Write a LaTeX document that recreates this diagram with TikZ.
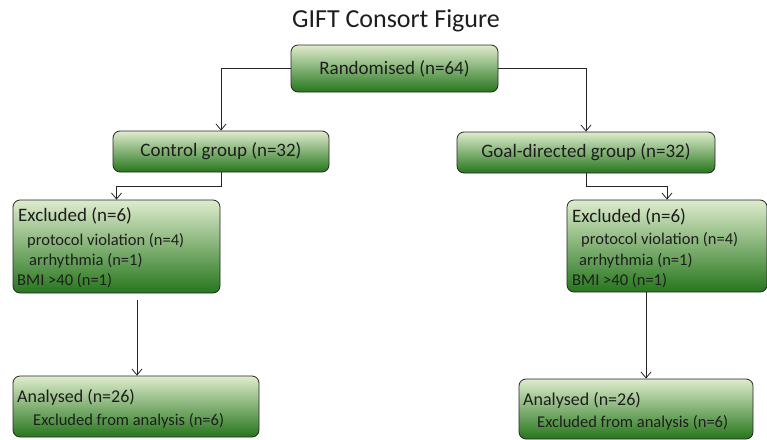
\documentclass[tikz,border=0pt]{standalone}
\usepackage{fontspec}
\setmainfont{Carlito}
\usetikzlibrary{arrows.meta}
\definecolor{gtop}{RGB}{222,236,205}
\definecolor{gmid}{RGB}{128,182,96}
\definecolor{gbot}{RGB}{38,118,28}
\definecolor{txt}{RGB}{30,30,30}
\begin{document}
\begin{tikzpicture}[x=1pt,y=-1pt,
 box/.style={draw=black!85, line width=0.8pt, rounded corners=7pt, top color=gtop, middle color=gmid, bottom color=gbot, inner sep=0pt, text=txt},
 big/.style={font=\fontsize{19}{22}\selectfont},
 mid/.style={font=\fontsize{18}{21}\selectfont},
 small/.style={font=\fontsize{16.5}{20}\selectfont},
 lbl/.style={anchor=base west, inner sep=0pt, text=txt},
 arr/.style={draw=black!85, line width=0.8pt, -{Straight Barb[length=6pt,width=10pt]}}]
\useasboundingbox (0,0) rectangle (767,439);
\fill[white] (0,0) rectangle (767,439);

\node[font=\fontsize{26}{30}\selectfont, anchor=base, text=txt] (title) at (396,27) {GIFT Consort Figure};

\node[box, big, minimum width=207pt, minimum height=47pt] (rand) at (394.5,68.5) {Randomised (n=64)};
\node[box, big, minimum width=216pt, minimum height=41pt] (ctrl) at (221,151.5) {Control group (n=32)};
\node[box, big, minimum width=258pt, minimum height=41pt] (goal) at (586,152.5) {Goal-directed group (n=32)};

\node[box, minimum width=207pt, minimum height=93pt] (exL) at (116.5,246.5) {};
\node[box, minimum width=200pt, minimum height=92pt] (exR) at (667,246) {};
\node[box, minimum width=246pt, minimum height=61pt] (anL) at (136,406.5) {};
\node[box, minimum width=234pt, minimum height=60pt] (anR) at (636,409) {};

\node[lbl, big] (exL1) at (18,221) {Excluded (n=6)};
\node[lbl, small] (exL2) at (27,245) {protocol violation (n=4)};
\node[lbl, small] (exL3) at (29,265) {arrhythmia (n=1)};
\node[lbl, small] (exL4) at (17,285) {BMI >40 (n=1)};

\node[lbl, big] (exR1) at (572,222) {Excluded (n=6)};
\node[lbl, small] (exR2) at (581,244) {protocol violation (n=4)};
\node[lbl, small] (exR3) at (579,265) {arrhythmia (n=1)};
\node[lbl, small] (exR4) at (572,285) {BMI >40 (n=1)};

\node[lbl, mid] (anL1) at (17,402) {Analysed (n=26)};
\node[lbl, small] (anL2) at (33,425) {Excluded from analysis (n=6)};
\node[lbl, mid] (anR1) at (523,405) {Analysed (n=26)};
\node[lbl, small] (anR2) at (537,427) {Excluded from analysis (n=6)};

\draw[arr] (rand.west) -| (ctrl.north);
\draw[arr] (rand.east) -| (goal.north);
\draw[arr] (ctrl.south) -- ++(0,14) -| (exL.north);
\draw[arr] (goal.south) -- ++(0,13) -| (exR.north);
\coordinate (cL) at (137,300);
\draw[arr] (cL) -- (cL |- anL.north);
\coordinate (cR) at (646,292);
\draw[arr] (cR) -- (cR |- anR.north);
\end{tikzpicture}
\end{document}
